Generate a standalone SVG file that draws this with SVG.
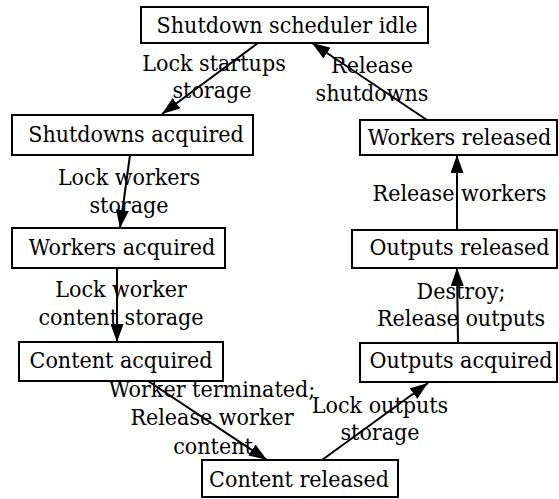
<svg xmlns="http://www.w3.org/2000/svg" width="559" height="499" viewBox="0 0 559 499">
<defs>
<style>
.box{fill:#fff;stroke:#000;stroke-width:2}
text{font-family:'DejaVu Serif Condensed','DejaVu Serif',serif;font-size:23px;fill:#000;text-anchor:middle}
.edge{stroke:#000;stroke-width:2;fill:none;marker-end:url(#ah)}
</style>
<marker id="ah" markerUnits="userSpaceOnUse" markerWidth="18" markerHeight="13" refX="18" refY="6.5" orient="auto">
<path d="M0,0 L18,6.5 L0,13 z" fill="#000"/>
</marker>
</defs>
<rect width="559" height="499" fill="#fff"/>
<g id="connectors">
<line class="edge" x1="258" y1="43" x2="162" y2="114"/>
<line class="edge" x1="427" y1="120" x2="312" y2="43"/>
<line class="edge" x1="130" y1="155" x2="120" y2="228"/>
<line class="edge" x1="117" y1="268" x2="117" y2="342"/>
<line class="edge" x1="148" y1="381" x2="267" y2="460"/>
<line class="edge" x1="322" y1="460" x2="428" y2="383"/>
<line class="edge" x1="458" y1="343" x2="457" y2="268"/>
<line class="edge" x1="457" y1="230" x2="457" y2="155"/>
</g>
<g id="edge-labels">
<text x="214" y="71">Lock startups</text>
<text x="212" y="98">storage</text>
<text x="372" y="73">Release</text>
<text x="372" y="101">shutdowns</text>
<text x="129" y="185">Lock workers</text>
<text x="129" y="213">storage</text>
<text x="459.5" y="201">Release workers</text>
<text x="121" y="297">Lock worker</text>
<text x="121" y="325">content storage</text>
<text x="461" y="299">Destroy;</text>
<text x="461" y="326">Release outputs</text>
<text x="212" y="397">Worker terminated;</text>
<text x="212" y="425">Release worker</text>
<text x="213" y="454">content</text>
<text x="380" y="413">Lock outputs</text>
<text x="380" y="440">storage</text>
</g>
<g id="idle"><rect class="box" x="141" y="7" width="287" height="36"/><text x="287" y="33">Shutdown scheduler idle</text></g>
<g id="shutdowns-acquired"><rect class="box" x="12" y="115" width="241" height="40"/><text x="136" y="142">Shutdowns acquired</text></g>
<g id="workers-acquired"><rect class="box" x="12" y="228" width="213" height="40"/><text x="122" y="255">Workers acquired</text></g>
<g id="content-acquired"><rect class="box" x="19" y="342" width="204" height="39"/><text x="121" y="368">Content acquired</text></g>
<g id="content-released"><rect class="box" x="202" y="460" width="196" height="37"/><text x="299" y="487">Content released</text></g>
<g id="outputs-acquired"><rect class="box" x="360" y="343" width="197" height="39"/><text x="461" y="368">Outputs acquired</text></g>
<g id="outputs-released"><rect class="box" x="352" y="230" width="205" height="38"/><text x="459.5" y="255">Outputs released</text></g>
<g id="workers-released"><rect class="box" x="360" y="120" width="197" height="35"/><text x="459.5" y="145">Workers released</text></g>
</svg>
